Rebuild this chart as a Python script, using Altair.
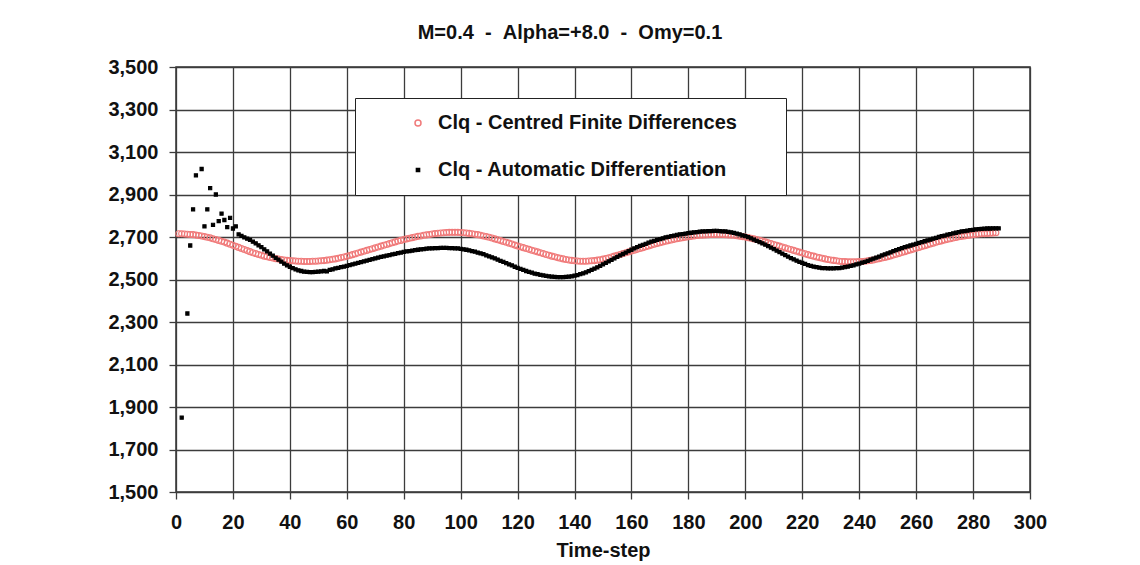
import altair as alt
import pandas as pd

# Clq from centred finite differences, one value per time-step (1..288)
cfd_values = [
    2.715, 2.715, 2.714, 2.713, 2.712, 2.711, 2.709, 2.707, 2.705, 2.702,
    2.699, 2.696, 2.692, 2.688, 2.684, 2.680, 2.676, 2.671, 2.666, 2.661,
    2.656, 2.651, 2.646, 2.641, 2.636, 2.631, 2.626, 2.622, 2.618, 2.614,
    2.610, 2.607, 2.604, 2.601, 2.598, 2.596, 2.594, 2.592, 2.590, 2.589,
    2.588, 2.587, 2.586, 2.586, 2.585, 2.585, 2.585, 2.586, 2.586, 2.587,
    2.588, 2.589, 2.591, 2.593, 2.595, 2.597, 2.600, 2.603, 2.606, 2.609,
    2.613, 2.617, 2.621, 2.625, 2.629, 2.633, 2.637, 2.641, 2.645, 2.649,
    2.653, 2.657, 2.661, 2.665, 2.669, 2.673, 2.677, 2.681, 2.684, 2.688,
    2.691, 2.694, 2.697, 2.700, 2.703, 2.705, 2.708, 2.710, 2.712, 2.714,
    2.716, 2.718, 2.719, 2.720, 2.721, 2.722, 2.722, 2.722, 2.722, 2.721,
    2.720, 2.719, 2.717, 2.715, 2.713, 2.711, 2.708, 2.705, 2.702, 2.699,
    2.695, 2.691, 2.687, 2.683, 2.679, 2.675, 2.671, 2.667, 2.662, 2.658,
    2.654, 2.650, 2.646, 2.642, 2.638, 2.634, 2.630, 2.626, 2.622, 2.618,
    2.614, 2.610, 2.607, 2.603, 2.600, 2.597, 2.594, 2.592, 2.590, 2.588,
    2.587, 2.586, 2.586, 2.586, 2.587, 2.588, 2.589, 2.591, 2.593, 2.596,
    2.599, 2.602, 2.606, 2.610, 2.614, 2.618, 2.622, 2.626, 2.630, 2.634,
    2.638, 2.642, 2.646, 2.650, 2.654, 2.658, 2.662, 2.666, 2.670, 2.673,
    2.677, 2.680, 2.683, 2.686, 2.689, 2.692, 2.694, 2.697, 2.699, 2.701,
    2.703, 2.705, 2.707, 2.708, 2.709, 2.710, 2.711, 2.712, 2.712, 2.712,
    2.712, 2.712, 2.711, 2.710, 2.709, 2.708, 2.706, 2.704, 2.702, 2.700,
    2.697, 2.694, 2.691, 2.688, 2.685, 2.681, 2.677, 2.673, 2.669, 2.665,
    2.661, 2.657, 2.653, 2.649, 2.645, 2.641, 2.637, 2.633, 2.629, 2.625,
    2.621, 2.617, 2.613, 2.610, 2.606, 2.603, 2.600, 2.597, 2.594, 2.592,
    2.590, 2.588, 2.586, 2.585, 2.584, 2.583, 2.583, 2.583, 2.583, 2.584,
    2.585, 2.586, 2.588, 2.590, 2.592, 2.595, 2.598, 2.601, 2.604, 2.607,
    2.611, 2.615, 2.619, 2.623, 2.627, 2.631, 2.635, 2.639, 2.643, 2.647,
    2.651, 2.655, 2.659, 2.663, 2.667, 2.671, 2.675, 2.679, 2.682, 2.686,
    2.689, 2.692, 2.695, 2.698, 2.701, 2.703, 2.705, 2.707, 2.709, 2.711,
    2.713, 2.714, 2.715, 2.716, 2.717, 2.718, 2.719, 2.720,
]

# Clq from automatic differentiation: start-up transient ...
ad_start_steps = [2, 4, 5, 6, 7, 9, 10, 11, 12, 13, 14, 15, 16, 17, 18, 19, 20, 21]
ad_start_values = [1.85, 2.34, 2.66, 2.83, 2.99, 3.02, 2.75, 2.83, 2.93, 2.757,
                   2.90, 2.775, 2.81, 2.78, 2.747, 2.79, 2.74, 2.75]

# ... then one value per time-step from 22 to 289
ad_values = [
    2.712, 2.705, 2.698, 2.692,
    2.686, 2.678, 2.670, 2.661, 2.652, 2.642, 2.632, 2.622, 2.612, 2.602,
    2.593, 2.584, 2.575, 2.567, 2.560, 2.553, 2.548, 2.543, 2.540, 2.537,
    2.536, 2.535, 2.535, 2.536, 2.537, 2.538, 2.540, 2.538, 2.545, 2.548,
    2.552, 2.555, 2.558, 2.561, 2.564, 2.568, 2.571, 2.575, 2.578, 2.582,
    2.585, 2.589, 2.592, 2.596, 2.599, 2.603, 2.606, 2.609, 2.612, 2.615,
    2.618, 2.621, 2.624, 2.627, 2.630, 2.632, 2.634, 2.636, 2.638, 2.640,
    2.642, 2.643, 2.645, 2.646, 2.647, 2.648, 2.648, 2.649, 2.649, 2.649,
    2.648, 2.648, 2.647, 2.646, 2.644, 2.642, 2.640, 2.637, 2.634, 2.631,
    2.627, 2.623, 2.619, 2.614, 2.609, 2.604, 2.599, 2.594, 2.588, 2.583,
    2.577, 2.571, 2.566, 2.560, 2.555, 2.550, 2.545, 2.540, 2.536, 2.532,
    2.528, 2.525, 2.522, 2.519, 2.517, 2.515, 2.513, 2.512, 2.511, 2.511,
    2.511, 2.512, 2.513, 2.515, 2.518, 2.521, 2.525, 2.529, 2.534, 2.539,
    2.545, 2.551, 2.557, 2.564, 2.571, 2.578, 2.585, 2.592, 2.599, 2.606,
    2.613, 2.620, 2.627, 2.634, 2.640, 2.646, 2.652, 2.658, 2.663, 2.668,
    2.673, 2.678, 2.682, 2.686, 2.690, 2.694, 2.698, 2.701, 2.704, 2.707,
    2.710, 2.712, 2.714, 2.716, 2.718, 2.720, 2.722, 2.723, 2.725, 2.726,
    2.727, 2.728, 2.728, 2.729, 2.729, 2.728, 2.727, 2.726, 2.724, 2.722,
    2.719, 2.716, 2.712, 2.708, 2.704, 2.699, 2.694, 2.688, 2.682, 2.676,
    2.670, 2.664, 2.657, 2.650, 2.643, 2.636, 2.629, 2.622, 2.615, 2.608,
    2.601, 2.595, 2.589, 2.583, 2.578, 2.573, 2.568, 2.564, 2.561, 2.558,
    2.556, 2.554, 2.553, 2.552, 2.552, 2.552, 2.553, 2.554, 2.556, 2.558,
    2.561, 2.564, 2.567, 2.571, 2.575, 2.579, 2.583, 2.588, 2.593, 2.598,
    2.603, 2.608, 2.613, 2.618, 2.623, 2.628, 2.633, 2.638, 2.643, 2.648,
    2.652, 2.656, 2.660, 2.664, 2.668, 2.672, 2.676, 2.680, 2.684, 2.688,
    2.692, 2.696, 2.700, 2.704, 2.707, 2.711, 2.714, 2.717, 2.720, 2.723,
    2.726, 2.728, 2.730, 2.732, 2.734, 2.736, 2.737, 2.738, 2.739, 2.740,
    2.740, 2.741, 2.741, 2.741,
]

series_names = ["Clq - Centred Finite Differences", "Clq - Automatic Differentiation"]
series_colors = ["#f07a7a", "#000000"]
series_fills = ["transparent", "#000000"]
series_shapes = ["circle", "square"]
series_sizes = [36, 10]

x_ticks = [0, 20, 40, 60, 80, 100, 120, 140, 160, 180, 200, 220, 240, 260, 280, 300]
y_ticks = [1.5, 1.7, 1.9, 2.1, 2.3, 2.5, 2.7, 2.9, 3.1, 3.3, 3.5]

chart_title = "M=0.4\u00a0\u00a0-\u00a0\u00a0Alpha=+8.0\u00a0\u00a0-\u00a0\u00a0Omy=0.1"
x_title = "Time-step"

FONT = "Liberation Sans"

cfd_steps = list(range(1, len(cfd_values) + 1))
ad_steps = ad_start_steps + list(range(22, 22 + len(ad_values)))
ad_all = ad_start_values + ad_values

df = pd.concat([
    pd.DataFrame({"step": cfd_steps, "clq": cfd_values, "series": series_names[0]}),
    pd.DataFrame({"step": ad_steps, "clq": ad_all, "series": series_names[1]}),
], ignore_index=True)

# trailing blank room after each label widens the legend frame on the right
legend = alt.Legend(
    orient="none", legendX=179, legendY=31, title=None,
    padding=15, fillColor="white", strokeColor="#222222",
    labelFont=FONT, labelFontSize=20, labelFontWeight="bold", labelColor="#111111",
    labelLimit=500, labelOffset=10, symbolOffset=38, rowPadding=27,
    labelExpr="datum.label + '\u00a0\u00a0\u00a0\u00a0\u00a0\u00a0\u200b'",
)

points = alt.Chart(df).mark_point(filled=False, strokeWidth=1.1, opacity=1).encode(
    x=alt.X("step:Q", title=x_title,
            scale=alt.Scale(domain=[0, 300], nice=False),
            axis=alt.Axis(values=x_ticks, format="d")),
    y=alt.Y("clq:Q", title=None,
            scale=alt.Scale(domain=[1.5, 3.5], nice=False, zero=False),
            axis=alt.Axis(values=y_ticks,
                          labelExpr="replace(format(datum.value, '.3f'), '.', ',')")),
    stroke=alt.Stroke("series:N", scale=alt.Scale(domain=series_names, range=series_colors), legend=legend),
    fill=alt.Fill("series:N", scale=alt.Scale(domain=series_names, range=series_fills), legend=legend),
    shape=alt.Shape("series:N", scale=alt.Scale(domain=series_names, range=series_shapes), legend=legend),
    size=alt.Size("series:N", scale=alt.Scale(domain=series_names, range=series_sizes), legend=legend),
)

chart = points.properties(
    width=854, height=425,
    title=alt.TitleParams(chart_title, font=FONT, fontSize=20, fontWeight="bold",
                          color="#111111", anchor="middle", dx=-33, offset=14),
    autosize=alt.AutoSizeParams(type="none"),
    padding={"left": 176, "top": 67, "right": 110, "bottom": 73},
).configure(
    background="white",
).configure_view(
    stroke="#333333", strokeWidth=1.5,
).configure_axis(
    grid=True, gridColor="#3c3c3c", gridWidth=1.3, gridOpacity=1,
    domain=False, tickColor="#3c3c3c", tickWidth=1.3, tickSize=7,
    labelFont=FONT, labelFontSize=20, labelFontWeight="bold", labelColor="#111111",
    titleFont=FONT, titleFontSize=20, titleFontWeight="bold", titleColor="#111111",
).configure_axisX(
    labelPadding=13, titlePadding=8, labelFlush=False,
).configure_axisY(
    labelPadding=11,
)

chart.save("out.html", embed_options={"renderer": "svg", "actions": False})
